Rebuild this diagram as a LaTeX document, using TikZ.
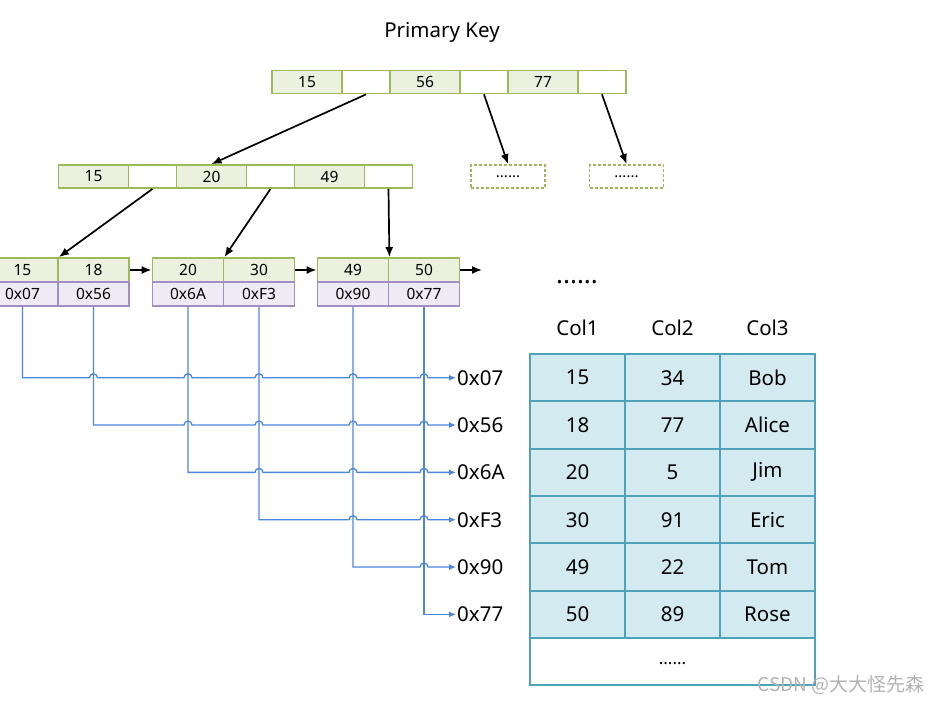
\documentclass[tikz,border=0pt]{standalone}
\usepackage{fontspec}
\setmainfont{Noto Sans}
\newfontfamily\cjkfont{Noto Sans CJK SC}
\usetikzlibrary{arrows.meta,calc}

\definecolor{keygreen}{HTML}{9BBB59}
\definecolor{keyfill}{HTML}{EBF1DE}
\definecolor{addrpurple}{HTML}{A48CC4}
\definecolor{addrfill}{HTML}{EFEBF4}
\definecolor{rowblue}{HTML}{4FA3B9}
\definecolor{rowfill}{HTML}{D3EAF0}
\definecolor{linkblue}{HTML}{4A86DE}

\tikzset{
  keycell/.style={draw=keygreen, fill=keyfill, line width=1.8pt, minimum width=70pt, minimum height=23pt, inner sep=0pt, font=\fontsize{15.5}{15.5}\selectfont},
  ptrcell/.style={keycell, fill=white, minimum width=48pt},
  leafkey/.style={keycell, minimum width=71pt, minimum height=24pt},
  leafaddr/.style={leafkey, draw=addrpurple, fill=addrfill},
  morebox/.style={draw=keygreen, dash pattern=on 3pt off 2pt, line width=1.8pt, minimum width=74pt, minimum height=23pt, inner sep=0pt, font=\fontsize{15}{15}\selectfont},
  rowcell/.style={draw=rowblue, fill=rowfill, line width=2pt, minimum width=95pt, minimum height=47.3pt, inner sep=0pt, font=\fontsize{20.5}{20.5}\selectfont},
  colhead/.style={font=\fontsize{20.5}{20.5}\selectfont},
  tree/.style={-{Latex[length=10pt,width=8pt]}, line width=1.7pt},
  link/.style={-{Latex[length=7pt,width=6pt]}, draw=linkblue, line width=1.3pt},
  addr/.style={anchor=west, inner sep=1pt, font=\fontsize{20.5}{20.5}\selectfont},
}

\begin{document}
\begin{tikzpicture}[x=1pt, y=-1pt]
    \useasboundingbox (0,0) rectangle (943,703);
    \clip (0,0) rectangle (943,703);

    % title:
    \node[font=\fontsize{20.5}{20.5}\selectfont] (title) at (442,32) {Primary Key};

    % root node:
    \foreach \v [count=\i] in {15,56,77} {
        \node[keycell] (rk\i) at ({189+118*\i},82) {\v};
        \node[ptrcell] (rp\i) at ({248+118*\i},82) {};
    }

    % second level:
    \foreach \v [count=\i] in {15,20,49} {
        \node[keycell] (mk\i) at ({-24.5+118*\i},176.5) {\v};
        \node[ptrcell] (mp\i) at ({34.5+118*\i},176.5) {};
    }

    % not expanded children:
    \node[morebox] (d1) at (508,176.5) {\raisebox{-3pt}{......}};
    \node[morebox] (d2) at (626.5,176.5) {\raisebox{-3pt}{......}};

    % leaves:
    \foreach \x/\a/\b/\pa/\pb [count=\j] in {22.5/15/18/0x07/0x56, 188/20/30/0x6A/0xF3, 353/49/50/0x90/0x77} {
        \pgfmathtruncatemacro\i{2*\j-1}
        \pgfmathtruncatemacro\k{2*\j}
        \node[leafkey] (k\i) at (\x,270) {\a};
        \node[leafkey] (k\k) at (\x+71,270) {\b};
        \node[leafaddr] (p\i) at (\x,294) {\pa};
        \node[leafaddr] (p\k) at (\x+71,294) {\pb};
    }
    \coordinate (kend) at (482,270);
    \node[font=\bfseries\fontsize{26}{26}\selectfont] (more) at (577,282) {......};

    % tree arrows:
    \draw[tree] (rp1.south) -- (mk2.north);
    \draw[tree] (rp2.south) -- (d1.north);
    \draw[tree] (rp3.south) -- (d2.north);
    \draw[tree] (mp1.south) -- (k1.north east);
    \draw[tree] (mp2.south) -- (k3.north east);
    \draw[tree] (mp3.south) -- (k5.north east);

    % leaf chain:
    \draw[tree] (k2.east) -- (k3.west);
    \draw[tree] (k4.east) -- (k5.west);
    \draw[tree] (k6.east) -- (kend);

    % row addresses:
    \foreach \t [count=\i] in {0x07,0x56,0x6A,0xF3,0x90,0x77}
        \node[addr] (a\i) at (456,{330.4+47.33*\i}) {\t};

    % links with hops:
    \foreach \i in {1,...,5} {
        \pgfmathtruncatemacro\n{\i+1}
        \draw[link] (p\i.south) -- (p\i.south |- a\i.west)
            \foreach \j in {\n,...,6} {
                -- ($(p\j.south |- a\i.west)+(-4pt,0)$) arc[start angle=180, end angle=0, radius=4pt]
            } -- (a\i.west);
    }
    \draw[link] (p6.south) |- (a6.west);

    % table:
    \node[colhead] (h1) at (577.5,328) {Col1};
    \node[colhead] (h2) at (672.5,328) {Col2};
    \node[colhead] (h3) at (767.5,328) {Col3};
    \foreach \c/\d/\e [count=\i] in {15/34/Bob, 18/77/Alice, 20/5/Jim, 30/91/Eric, 49/22/Tom, 50/89/Rose} {
        \node[rowcell] (t\i a) at (577.5,{330.4+47.33*\i}) {\c};
        \node[rowcell] (t\i b) at (672.5,{330.4+47.33*\i}) {\d};
        \node[rowcell] (t\i c) at (767.5,{330.4+47.33*\i}) {\e};
    }
    \node[rowcell, fill=white, minimum width=285pt, font=\fontsize{17}{17}\selectfont] (tend) at (672.5,661.3) {\raisebox{-6pt}{......}};

    % watermark:
    \node[anchor=east, text=gray!60, font=\cjkfont\fontsize{19}{19}\selectfont] (mark) at (928,685) {CSDN @大大怪先森};
\end{tikzpicture}
\end{document}
